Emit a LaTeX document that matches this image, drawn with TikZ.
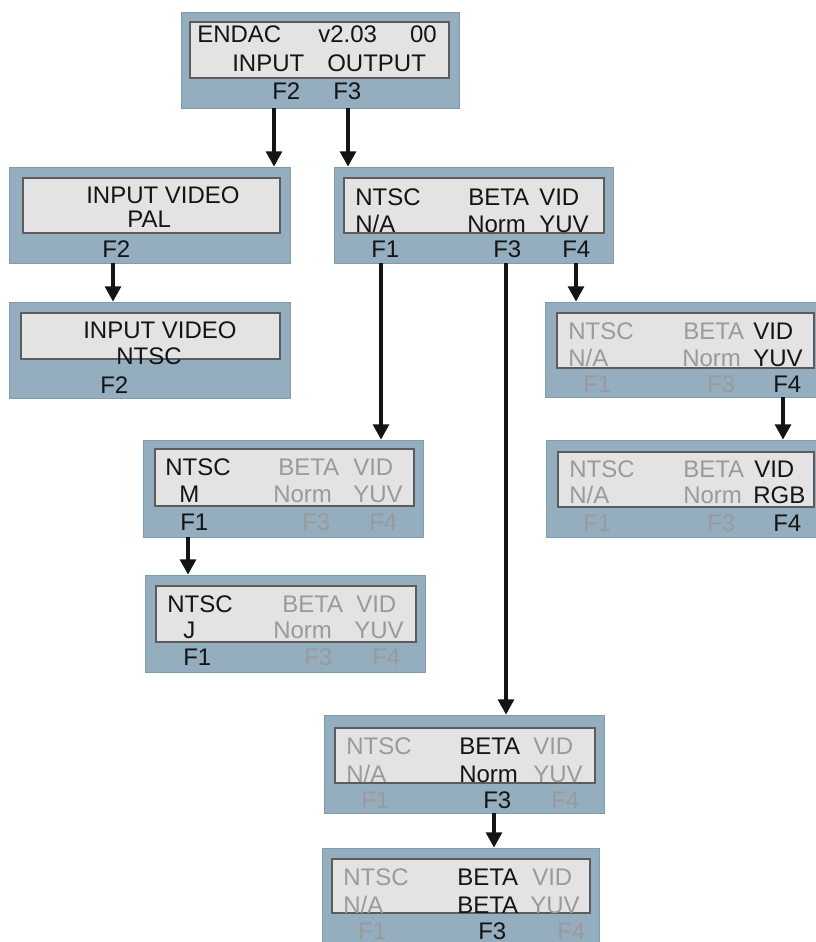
\documentclass[tikz,border=0pt]{standalone}
\usepackage{fontspec}
\setmainfont{Liberation Sans}
\usetikzlibrary{arrows.meta,fit}
\definecolor{panelfill}{HTML}{94AEBF}
\definecolor{panelline}{HTML}{7F9BAE}
\definecolor{lcdfill}{HTML}{E3E3E3}
\definecolor{lcdline}{HTML}{5C5C5C}
\definecolor{dimtext}{HTML}{9A9A9A}
\definecolor{ink}{HTML}{141414}
\begin{document}
\begin{tikzpicture}[x=0.75pt,y=-0.75pt,
  panel/.style={draw=panelline, line width=0.6pt, fill=panelfill, inner sep=0pt},
  lcd/.style={draw=lcdline, line width=1.1pt, fill=lcdfill, inner sep=0pt},
  lbl/.style={inner sep=0pt, anchor=base west, font=\fontsize{18}{21}\selectfont, text=ink},
  dim/.style={lbl, text=dimtext},
  arr/.style={draw=ink, line width=2.3pt, -{Triangle[width=12pt,length=11.5pt]}}]
\useasboundingbox (0,0) rectangle (816,942);
\clip (0,0) rectangle (816,942);
% panels
\node[panel, fit={(181,12) (459,108)}] (A) {};
\node[lcd, fit={(190,22) (449,78)}] (Ai) {};
\node[panel, fit={(9,167) (290,263)}] (B) {};
\node[lcd, fit={(23,178) (280,233)}] (Bi) {};
\node[panel, fit={(9,302) (290,398)}] (C) {};
\node[lcd, fit={(21,313) (280,359)}] (Ci) {};
\node[panel, fit={(334,167) (613,263)}] (D) {};
\node[lcd, fit={(344,178) (604,233)}] (Di) {};
\node[panel, fit={(545,302) (822,397)}] (E) {};
\node[lcd, fit={(557,313) (814,368)}] (Ei) {};
\node[panel, fit={(546,440) (822,537)}] (F) {};
\node[lcd, fit={(558,452) (814,507)}] (Fi) {};
\node[panel, fit={(143,440) (423,537)}] (G) {};
\node[lcd, fit={(155,449) (414,506)}] (Gi) {};
\node[panel, fit={(145,575) (425,672)}] (H) {};
\node[lcd, fit={(156,586) (416,642)}] (Hi) {};
\node[panel, fit={(324,715) (604,813)}] (I) {};
\node[lcd, fit={(335,728) (595,783)}] (Ii) {};
\node[panel, fit={(322,848) (599,955)}] (J) {};
\node[lcd, fit={(332,859) (590,913)}] (Ji) {};
% panel A
\node[lbl] (a1) at (197,43) {ENDAC};
\node[lbl] (a2) at (318,43) {v2.03};
\node[lbl, anchor=base east] (a3) at (437,43) {00};
\node[lbl] (a4) at (232,72) {INPUT};
\node[lbl] (a5) at (327,72) {OUTPUT};
\node[lbl] (a6) at (272,99) {F2};
\node[lbl] (a7) at (333,99) {F3};
% panel B
\node[lbl] (b1) at (86,203) {INPUT VIDEO};
\node[lbl] (b2) at (127,227) {PAL};
\node[lbl] (b3) at (102,257) {F2};
% panel C
\node[lbl] (c1) at (83,338) {INPUT VIDEO};
\node[lbl] (c2) at (116,364) {NTSC};
\node[lbl] (c3) at (100,393) {F2};
% panel D
\node[lbl] (d1) at (355,205) {NTSC};
\node[lbl] (d2) at (468,205) {BETA};
\node[lbl] (d3) at (539,205) {VID};
\node[lbl] (d4) at (355,232) {N/A};
\node[lbl] (d5) at (467,232) {Norm};
\node[lbl] (d6) at (539,232) {YUV};
\node[lbl] (d7) at (371,257) {F1};
\node[lbl] (d8) at (493,257) {F3};
\node[lbl] (d9) at (562,257) {F4};
% panel E
\node[dim] (e1) at (568,339) {NTSC};
\node[dim] (e2) at (683,339) {BETA};
\node[lbl] (e3) at (753,339) {VID};
\node[dim] (e4) at (568,366) {N/A};
\node[dim] (e5) at (682,366) {Norm};
\node[lbl] (e6) at (753,366) {YUV};
\node[dim] (e7) at (583,392) {F1};
\node[dim] (e8) at (707,392) {F3};
\node[lbl] (e9) at (773,392) {F4};
% panel F
\node[dim] (f1) at (569,477) {NTSC};
\node[dim] (f2) at (683,477) {BETA};
\node[lbl] (f3) at (754,477) {VID};
\node[dim] (f4) at (569,503) {N/A};
\node[dim] (f5) at (683,503) {Norm};
\node[lbl] (f6) at (753,503) {RGB};
\node[dim] (f7) at (583,531) {F1};
\node[dim] (f8) at (707,531) {F3};
\node[lbl] (f9) at (773,531) {F4};
% panel G
\node[lbl] (g1) at (165,475) {NTSC};
\node[dim] (g2) at (278,475) {BETA};
\node[dim] (g3) at (353,475) {VID};
\node[lbl] (g4) at (179,502) {M};
\node[dim] (g5) at (273,502) {Norm};
\node[dim] (g6) at (353,502) {YUV};
\node[lbl] (g7) at (180,530) {F1};
\node[dim] (g8) at (302,530) {F3};
\node[dim] (g9) at (369,530) {F4};
% panel H
\node[lbl] (h1) at (167,612) {NTSC};
\node[dim] (h2) at (282,612) {BETA};
\node[dim] (h3) at (356,612) {VID};
\node[lbl] (h4) at (183,638) {J};
\node[dim] (h5) at (273,638) {Norm};
\node[dim] (h6) at (354,638) {YUV};
\node[lbl] (h7) at (183,665) {F1};
\node[dim] (h8) at (304,665) {F3};
\node[dim] (h9) at (372,665) {F4};
% panel I
\node[dim] (i1) at (346,754) {NTSC};
\node[lbl] (i2) at (459,754) {BETA};
\node[dim] (i3) at (533,754) {VID};
\node[dim] (i4) at (346,782) {N/A};
\node[lbl] (i5) at (459,782) {Norm};
\node[dim] (i6) at (533,782) {YUV};
\node[dim] (i7) at (361,808) {F1};
\node[lbl] (i8) at (483,808) {F3};
\node[dim] (i9) at (551,808) {F4};
% panel J
\node[dim] (j1) at (343,885) {NTSC};
\node[lbl] (j2) at (457,885) {BETA};
\node[dim] (j3) at (532,885) {VID};
\node[dim] (j4) at (343,913) {N/A};
\node[lbl] (j5) at (457,913) {BETA};
\node[dim] (j6) at (530,913) {YUV};
\node[dim] (j7) at (358,939) {F1};
\node[lbl] (j8) at (478,939) {F3};
\node[dim] (j9) at (557,939) {F4};
% connectors
\draw[arr] (A.south -| 274,0) -- (B.north -| 274,0);
\draw[arr] (A.south -| 348,0) -- (D.north -| 348,0);
\draw[arr] (B.south -| 113,0) -- (C.north -| 113,0);
\draw[arr] (D.south -| 381,0) -- (G.north -| 381,0);
\draw[arr] (D.south -| 506,0) -- (I.north -| 506,0);
\draw[arr] (D.south -| 576,0) -- (E.north -| 576,0);
\draw[arr] (E.south -| 783,0) -- (F.north -| 783,0);
\draw[arr] (G.south -| 188,0) -- (H.north -| 188,0);
\draw[arr] (I.south -| 494,0) -- (J.north -| 494,0);
\end{tikzpicture}
\end{document}
